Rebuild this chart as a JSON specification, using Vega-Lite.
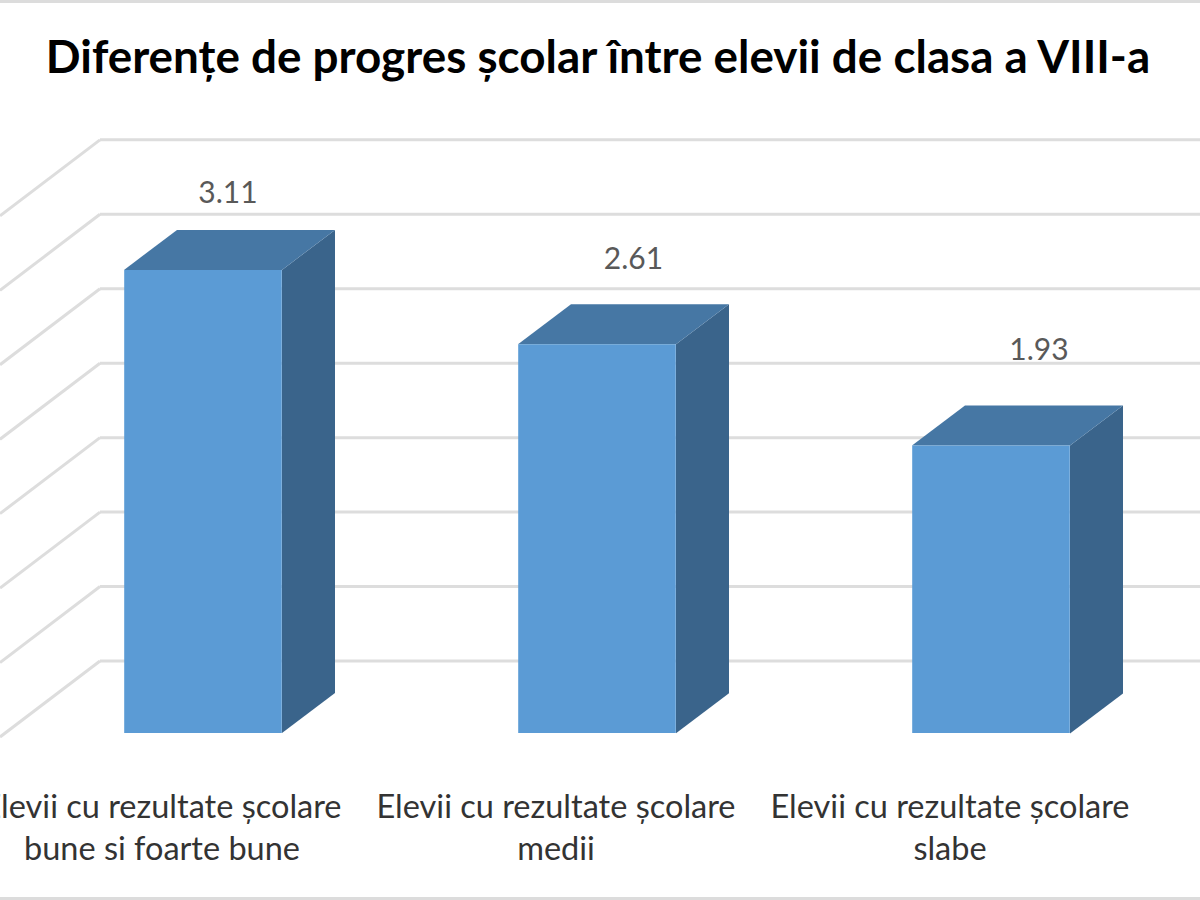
{
"$schema":"https://vega.github.io/schema/vega-lite/v6.json",
"width":1200,"height":900,"padding":0,"autosize":"none","background":"white",
"config":{"view":{"stroke":null}},
"title":{"text":"Diferențe de progres școlar între elevii de clasa a VIII-a","font":"Lato","fontWeight":"bold","fontSize":45.8,"color":"#000000","anchor":"middle","frame":"group","offset":-84,"dx":-2},
"datasets":{
"bars":[
{"categorie":"Elevii cu rezultate școlare\nbune si foarte bune","progres":3.11},
{"categorie":"Elevii cu rezultate școlare\nmedii","progres":2.61},
{"categorie":"Elevii cu rezultate școlare\nslabe","progres":1.93}],
"grid":[{"nivel":0},{"nivel":0.5},{"nivel":1},{"nivel":1.5},{"nivel":2},{"nivel":2.5},{"nivel":3},{"nivel":3.5}],
"frame":[{"margine":"sus"}]
},
"resolve":{"scale":{"y":"independent","x":"independent"}},
"layer":[
{"layer":[
{"data":{"name":"grid"},"mark":{"type":"rule","color":"#dddddd","strokeWidth":3,"yOffset":-72},
"encoding":{"y":{"field":"nivel","type":"quantitative","scale":{"domain":[-1.1216,4.9228],"nice":false,"zero":false},"axis":null},"x":{"value":100},"x2":{"value":1200}}},
{"data":{"name":"grid"},"mark":{"type":"point","filled":false,"shape":"M0,4L100,-72","stroke":"#dddddd","strokeWidth":3,"size":4,"opacity":1},
"encoding":{"y":{"field":"nivel","type":"quantitative"},"x":{"value":0}}},
{"data":{"name":"bars"},"mark":{"type":"point","filled":true,"strokeWidth":0,"size":4,"opacity":1,"color":"#3A648B"},
"encoding":{"x":{"field":"categorie","type":"nominal","sort":null,"scale":{"type":"band","paddingInner":0.6,"paddingOuter":0.3,"range":[6,1188]},"axis":null},
"y":{"field":"progres","type":"quantitative"},
"shape":{"field":"categorie","type":"nominal","legend":null,"sort":null,"scale":{"domain":["Elevii cu rezultate școlare\nbune si foarte bune","Elevii cu rezultate școlare\nmedii","Elevii cu rezultate școlare\nslabe"],"range":["M79,0L132,-40L132,423L79,463Z","M79,0L132,-40L132,349L79,389Z","M79,0L132,-40L132,248L79,288Z"]}}}},
{"data":{"name":"bars"},"mark":{"type":"point","filled":true,"strokeWidth":0,"size":4,"opacity":1,"color":"#4677A4","shape":"M-79,0L-26,-40L132,-40L79,0Z"},
"encoding":{"x":{"field":"categorie","type":"nominal","sort":null},"y":{"field":"progres","type":"quantitative"}}},
{"data":{"name":"bars"},"mark":{"type":"bar","color":"#5B9BD5"},
"encoding":{"x":{"field":"categorie","type":"nominal","sort":null},"y":{"field":"progres","type":"quantitative","stack":null}}},
{"data":{"name":"bars"},"mark":{"type":"text","font":"Lato","fontSize":32.5,"color":"#333333","lineBreak":"\n","lineHeight":42,"align":"center","baseline":"alphabetic","dx":-41},
"encoding":{"x":{"field":"categorie","type":"nominal","sort":null},"y":{"value":818},"text":{"field":"categorie","type":"nominal"}}},
{"data":{"name":"frame"},"mark":{"type":"rule","color":"#dcdcdc","strokeWidth":4},
"encoding":{"x":{"value":0},"x2":{"value":1200},"y":{"value":1}}},
{"data":{"name":"frame"},"mark":{"type":"rule","color":"#dcdcdc","strokeWidth":4},
"encoding":{"x":{"value":0},"x2":{"value":1200},"y":{"value":899}}}
]},
{"data":{"name":"bars"},"mark":{"type":"text","font":"Lato","fontSize":30,"color":"#595959","align":"center","baseline":"alphabetic"},
"encoding":{"x":{"field":"categorie","type":"nominal","sort":null,"scale":{"type":"point","padding":0,"range":[228,1039]},"axis":null},
"y":{"field":"progres","type":"quantitative","scale":{"domain":[-2.131,4.636],"nice":false,"zero":false},"axis":null},
"text":{"field":"progres","type":"quantitative","format":".2f"}}}
]
}
